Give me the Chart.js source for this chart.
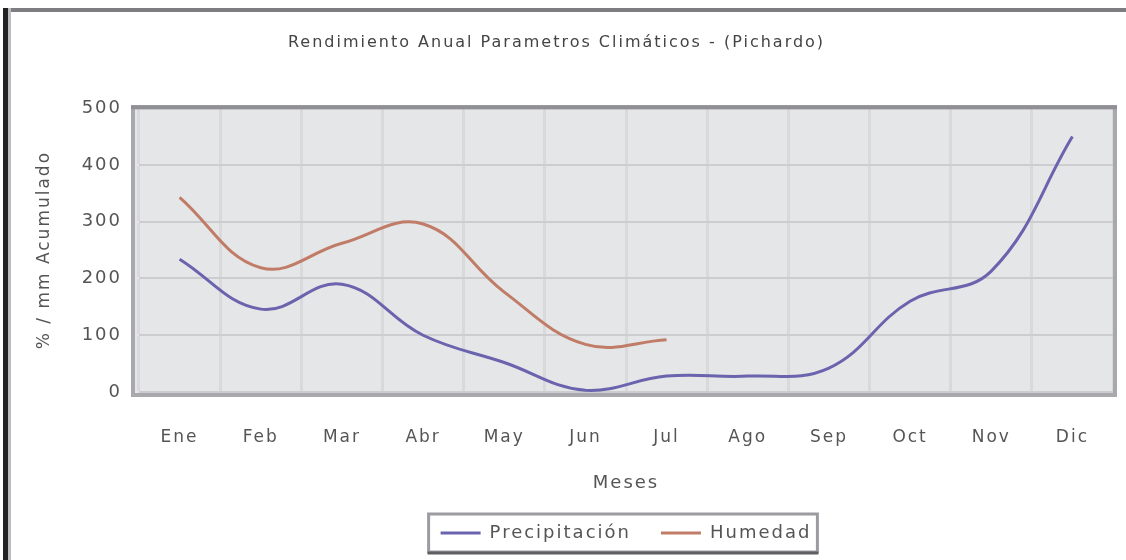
<!DOCTYPE html>
<html>
<head>
<meta charset="utf-8">
<script src="https://cdn.jsdelivr.net/npm/chart.js@4/dist/chart.umd.min.js"></script>
<style>
  html, body { margin: 0; padding: 0; background: #fff; }
  #wrap { position: relative; width: 1126px; height: 560px; overflow: hidden; }
  #chart { position: absolute; left: 0; top: 0; }
  #frameTop { position: absolute; left: 3px; top: 8px; width: 1123px; height: 4px; background: #7d7d82; }
  #frameLeft { position: absolute; left: 3px; top: 8px; width: 5px; height: 552px; background: #222; border-right: 3px solid #bcbcc0; }
</style>
</head>
<body>
<div id="wrap">
  <canvas id="chart" width="1126" height="560"></canvas>
  <div id="frameTop"></div>
  <div id="frameLeft"></div>
</div>
<script>
// months along the x axis
var meses = ['Ene', 'Feb', 'Mar', 'Abr', 'May', 'Jun', 'Jul', 'Ago', 'Sep', 'Oct', 'Nov', 'Dic']

// values
var precipitacion = [234, 146, 190, 100, 52, 3, 28, 28, 42, 160, 213, 450]
var humedad = [343, 219, 262, 296, 176, 84, 92, null, null, null, null, null]

var chartTitle = 'Rendimiento Anual Parametros Climáticos - (Pichardo)'
var yTitle = '% / mm Acumulado'
var xTitle = 'Meses'

var textColor = '#555'
var fontFamily = '"DejaVu Sans", sans-serif'

// the original text is drawn quite wide, spread the letters a bit
var spacingPlugin = {
  id: 'spacingPlugin',
  beforeLayout: function (chart) {
    chart.ctx.letterSpacing = '2px'
  }
}

// plot background + grey frame around the plot, box around the legend
var framePlugin = {
  id: 'framePlugin',
  beforeDraw: function (chart) {
    var a = chart.chartArea
    var ctx = chart.ctx
    ctx.save()
    ctx.fillStyle = '#e5e6e8'
    ctx.fillRect(a.left - 4, a.top, a.right - a.left + 4, a.bottom - a.top)
    ctx.restore()
  },
  afterDraw: function (chart) {
    var a = chart.chartArea
    var ctx = chart.ctx
    ctx.save()
    ctx.lineWidth = 4
    ctx.strokeStyle = '#a9a9ad'
    ctx.strokeRect(a.left - 6, a.top - 1, a.right - a.left + 8, a.bottom - a.top + 4)
    ctx.strokeStyle = '#909094'
    ctx.beginPath()
    ctx.moveTo(a.left - 8, a.top - 1)
    ctx.lineTo(a.right + 4, a.top - 1)
    ctx.stroke()

    // legend box
    var boxes = chart.legend.legendHitBoxes
    if (boxes && boxes.length) {
      var l = boxes[0].left - 12
      var last = boxes[boxes.length - 1]
      var r = last.left + last.width + 6
      var t = boxes[0].top - 10
      var b = boxes[0].top + boxes[0].height + 10
      ctx.lineWidth = 3
      ctx.strokeStyle = '#9c9ca0'
      ctx.strokeRect(l, t, r - l, b - t)
      ctx.strokeStyle = '#5f5f63'
      ctx.beginPath()
      ctx.moveTo(l - 1, b + 1)
      ctx.lineTo(r + 1, b + 1)
      ctx.stroke()
    }
    ctx.restore()
  }
}

var ctx = document.getElementById('chart').getContext('2d')
var chart = new Chart(ctx, {
  type: 'line',
  data: {
    labels: meses,
    datasets: [{
      label: 'Precipitación',
      data: precipitacion,
      borderColor: '#6a63ad',
      backgroundColor: '#6a63ad',
      borderWidth: 3,
      pointRadius: 0,
      tension: 0.4,
      fill: false
    }, {
      label: 'Humedad',
      data: humedad,
      borderColor: '#c07c66',
      backgroundColor: '#c07c66',
      borderWidth: 3,
      pointRadius: 0,
      tension: 0.4,
      fill: false
    }]
  },
  options: {
    responsive: false,
    animation: false,
    layout: { padding: { left: 0, right: 13, top: 0, bottom: 8 } },
    plugins: {
      title: {
        display: true,
        text: chartTitle,
        color: '#444',
        font: { family: fontFamily, size: 16, weight: 'normal' },
        padding: { top: 33, bottom: 56 }
      },
      legend: {
        position: 'bottom',
        fullSize: false,
        labels: {
          color: textColor,
          font: { family: fontFamily, size: 18 },
          usePointStyle: true,
          pointStyle: 'line',
          pointStyleWidth: 40,
          padding: 30
        }
      },
      tooltip: { enabled: false }
    },
    scales: {
      x: {
        offset: true,
        afterFit: function (scale) { scale.height = 102 },
        grid: {
          offset: true,
          color: '#d9d9dc',
          lineWidth: 3,
          tickColor: '#efeff0',
          tickLength: 5
        },
        border: { display: false },
        ticks: {
          color: textColor,
          font: { family: fontFamily, size: 17 },
          padding: 30,
          maxRotation: 0
        },
        title: {
          display: true,
          text: xTitle,
          color: textColor,
          font: { family: fontFamily, size: 18 },
          padding: { top: 0, bottom: 0 }
        }
      },
      y: {
        min: 0,
        max: 500,
        afterFit: function (scale) { scale.width = 139 },
        grid: {
          color: '#cdcdd0',
          lineWidth: 2,
          tickColor: '#e6e6e8',
          tickLength: 5
        },
        border: { display: false },
        ticks: {
          stepSize: 100,
          color: textColor,
          font: { family: fontFamily, size: 18 },
          padding: 12
        },
        title: {
          display: true,
          text: yTitle,
          color: textColor,
          font: { family: fontFamily, size: 17 },
          padding: { top: 34, bottom: 0 }
        }
      }
    }
  },
  plugins: [spacingPlugin, framePlugin]
})
</script>
</body>
</html>
